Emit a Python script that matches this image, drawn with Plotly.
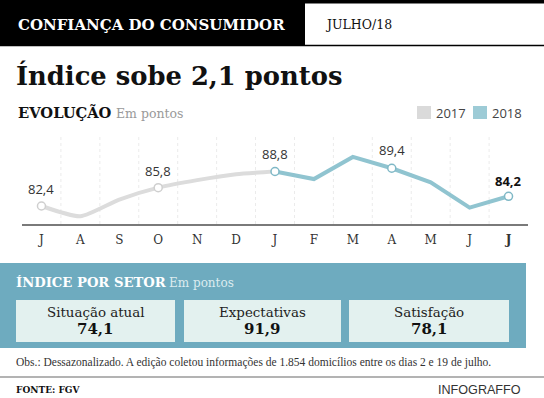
import plotly.graph_objects as go

# ---------------- data ----------------
months = ["J", "A", "S", "O", "N", "D", "J", "F", "M", "A", "M", "J", "J"]
values_2017 = [82.4, 80.5, 83.6, 85.8, 87.2, 88.3, 88.8]          # Jul/17 .. Jan/18
values_2018 = [88.8, 87.4, 91.5, 89.4, 86.8, 82.1, 84.2]          # Jan/18 .. Jul/18
labelled_2017 = [0, 3]          # positions (within 2017 series) with marker + label
labelled_2018 = [0, 3, 6]       # positions (within 2018 series) with marker + label
sector_names = ["Situação atual", "Expectativas", "Satisfação"]
sector_values = [74.1, 91.9, 78.1]

# ---------------- geometry helpers ----------------
W, H = 544, 398
def px(x):
    return x / W
def py(y):
    return 1 - y / H

SERIF = "DejaVu Serif, serif"
NARROW_SERIF = "Liberation Serif, serif"
SANS = "Open Sans, DejaVu Sans, sans-serif"
C2017 = "#dcdcdc"
C2018 = "#90c4d0"
BAND = "#6eabbf"
BOX = "#e3f1ef"

def fmt(v):
    return f"{v:.1f}".replace(".", ",")

x2017 = list(range(0, len(values_2017)))
x2018 = list(range(len(values_2017) - 1, len(values_2017) - 1 + len(values_2018)))

fig = go.Figure()
fig.add_trace(go.Scatter(x=x2017, y=values_2017, mode="lines",
                         line=dict(color=C2017, width=4, shape="spline", smoothing=0.6),
                         hoverinfo="skip", showlegend=False))
fig.add_trace(go.Scatter(x=x2018, y=values_2018, mode="lines",
                         line=dict(color=C2018, width=4),
                         hoverinfo="skip", showlegend=False))
fig.add_trace(go.Scatter(x=[x2017[i] for i in labelled_2017], y=[values_2017[i] for i in labelled_2017],
                         mode="markers", marker=dict(symbol="circle", size=8, color="white",
                                                     line=dict(color="#cfcfcf", width=1.5)),
                         hoverinfo="skip", showlegend=False))
fig.add_trace(go.Scatter(x=[x2018[i] for i in labelled_2018], y=[values_2018[i] for i in labelled_2018],
                         mode="markers", marker=dict(symbol="circle", size=8, color="white",
                                                     line=dict(color="#7fb8c6", width=1.5)),
                         hoverinfo="skip", showlegend=False))

annotations = []
for i in labelled_2017:
    annotations.append(dict(x=x2017[i], y=values_2017[i], xref="x", yref="y", text=fmt(values_2017[i]),
                            showarrow=False, yshift=17, font=dict(family=SANS, size=13, color="#333")))
last = len(values_2018) - 1
for i in labelled_2018:
    txt = fmt(values_2018[i])
    if i == last:
        txt = "<b>" + txt + "</b>"
    annotations.append(dict(x=x2018[i], y=values_2018[i], xref="x", yref="y", text=txt,
                            showarrow=False, yshift=15 if i == last else 18,
                            font=dict(family=SANS, size=13, color="#111" if i == last else "#333")))

ticktext = months[:-1] + ["<b>" + months[-1] + "</b>"]

shapes = []
# header
shapes.append(dict(type="rect", xref="paper", yref="paper", x0=px(0), x1=px(305), y0=py(46), y1=py(0),
                   fillcolor="black", line=dict(width=0), layer="below"))
shapes.append(dict(type="rect", xref="paper", yref="paper", x0=px(0), x1=px(544), y0=py(3.5), y1=py(0),
                   fillcolor="black", line=dict(width=0), layer="below"))
shapes.append(dict(type="line", xref="paper", yref="paper", x0=px(0), x1=px(544), y0=py(45.5), y1=py(45.5),
                   line=dict(color="black", width=1.5)))
# vertical faint gridlines between months
for k in range(len(months) - 1):
    shapes.append(dict(type="line", xref="x", yref="paper", x0=k + 0.5, x1=k + 0.5, y0=py(224), y1=py(137),
                       line=dict(color="#ebebeb", width=1, dash="dot"), layer="below"))
# legend squares
shapes.append(dict(type="rect", xref="paper", yref="paper", x0=px(417), x1=px(431), y0=py(119), y1=py(106),
                   fillcolor="#dadada", line=dict(width=0)))
shapes.append(dict(type="rect", xref="paper", yref="paper", x0=px(473), x1=px(487), y0=py(119), y1=py(106),
                   fillcolor="#9dcbd6", line=dict(width=0)))
# sector band
shapes.append(dict(type="rect", xref="paper", yref="paper", x0=px(0), x1=px(526), y0=py(348), y1=py(263),
                   fillcolor=BAND, line=dict(width=0), layer="below"))
box_x = [(16, 175), (184, 341), (349, 509)]
for (a, b) in box_x:
    shapes.append(dict(type="rect", xref="paper", yref="paper", x0=px(a), x1=px(b), y0=py(342), y1=py(300),
                       fillcolor=BOX, line=dict(width=0)))
# footer line
shapes.append(dict(type="line", xref="paper", yref="paper", x0=px(0), x1=px(544), y0=py(377), y1=py(377),
                   line=dict(color="#9a9a9a", width=1.5)))

def ptext(x, y, text, size, color, family=SERIF, xanchor="left"):
    annotations.append(dict(x=px(x), y=py(y), xref="paper", yref="paper", text=text, showarrow=False,
                            xanchor=xanchor, yanchor="middle",
                            font=dict(family=family, size=size, color=color)))

ptext(16, 25, "<b>CONFIANÇA DO CONSUMIDOR</b>", 15.0, "white")
ptext(323, 25, "JULHO/18", 12.5, "#111")
ptext(14, 75, "<b>Índice sobe 2,1 pontos</b>", 25.8, "#111")
ptext(16, 112, "<b>EVOLUÇÃO</b>", 14.7, "#111")
ptext(114, 113, "Em pontos", 12.5, "#9a9a9a")
ptext(434, 113, "2017", 13, "#444", family=SANS)
ptext(490, 113, "2018", 13, "#444", family=SANS)
ptext(14, 282, "<b>ÍNDICE POR SETOR</b>", 13.2, "white")
ptext(167, 283, "Em pontos", 12, "#dcebef")
for (a, b), name, val in zip(box_x, sector_names, sector_values):
    ptext((a + b) / 2, 312, name, 13.4, "#222", xanchor="center")
    ptext((a + b) / 2, 329, "<b>" + fmt(val) + "</b>", 15, "#111", xanchor="center")
ptext(14, 362, "Obs.: Dessazonalizado. A edição coletou informações de 1.854 domicílios entre os dias 2 e 19 de julho.",
      11.5, "#333", family=NARROW_SERIF)
ptext(14, 390, "<b>FONTE: FGV</b>", 9, "#111")
ptext(523, 390, "INFOGRAFFO", 12.6, "#333", family="Liberation Sans, Arial, sans-serif", xanchor="right")

fig.update_layout(
    width=W, height=H,
    margin=dict(l=0, r=0, t=0, b=0),
    paper_bgcolor="white", plot_bgcolor="rgba(0,0,0,0)",
    shapes=shapes, annotations=annotations,
    xaxis=dict(domain=[px(22), px(528)], range=[-0.5, 12.5], tickmode="array",
               tickvals=list(range(len(months))), ticktext=ticktext,
               showline=True, linecolor="#7a7a7a", linewidth=1.5, showgrid=False, zeroline=False,
               ticks="", ticklabelstandoff=4, tickfont=dict(family=SERIF, size=12, color="#333"),
               fixedrange=True),
    yaxis=dict(domain=[py(224), py(137)], range=[79.06, 95.2], showgrid=False, zeroline=False,
               showticklabels=False, showline=False, fixedrange=True),
    showlegend=False,
)

fig.write_html("out.html", config={"displayModeBar": False},
               post_script="document.body.style.margin='0px';document.body.style.overflow='hidden';")
